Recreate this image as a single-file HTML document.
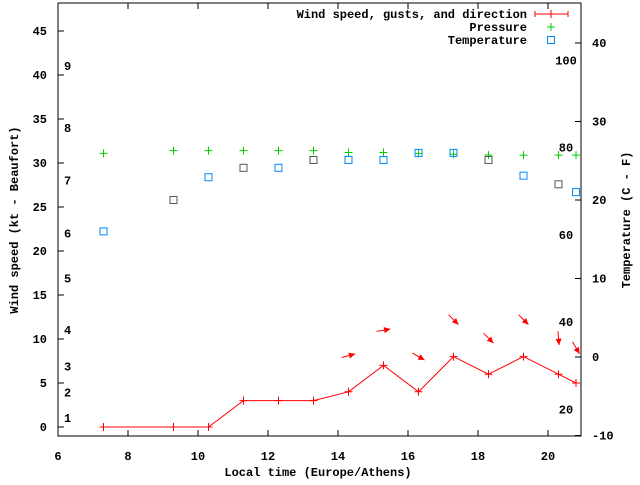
<!DOCTYPE html>
<html><head><meta charset="utf-8"><style>
body{margin:0;background:#fff}
svg text{font-family:"Liberation Mono",monospace;font-weight:bold;font-size:12px;fill:#000}
</style></head><body>
<svg id="chart" width="640" height="480" xmlns="http://www.w3.org/2000/svg">
<g id="axes"></g><g id="series"></g><g id="legend"></g>
</svg>
<script>
const times=[7.3,9.3,10.3,11.3,12.3,13.3,14.3,15.3,16.3,17.3,18.3,19.3,20.3,20.8];
const windSpeed=[0,0,0,3,3,3,4,7,4,8,6,8,6,5];
const pressure=[31.1,31.4,31.4,31.4,31.4,31.4,31.2,31.2,31.1,31.0,30.9,30.9,30.9,30.9];
const temperature=[16.0,20.0,22.9,24.1,24.1,25.1,25.1,25.1,26.0,26.0,25.1,23.1,22.0,21.0];
const tempGray=[0,1,0,1,0,1,0,0,0,0,1,0,1,0];
const arrowTimes=[14.3,15.3,16.3,17.3,18.3,19.3,20.3,20.8];
const gusts=[8.1,11.0,8.0,12.2,10.1,12.2,10.1,9.0];
const windDirDeg=[255,260,300,315,315,315,355,330];
const xTicks=[6,8,10,12,14,16,18,20];
const yTicks=[0,5,10,15,20,25,30,35,40,45];
const y2Ticks=[-10,0,10,20,30,40];
const fLabels=[20,40,60,80,100];
const beaufort=[1,2,3,4,5,6,7,8,9];
const beaufortKt=[1.0,3.9,6.9,11,16.9,22,28,34,41];

const L=58,R=581,T=3,B=436;
const X=v=>L+(v-6)*35;
const Y=v=>427-v*8.8;
const Y2=v=>357-v*7.85;
const NS="http://www.w3.org/2000/svg";
function el(p,tag,a){const e=document.createElementNS(NS,tag);for(const k in a)e.setAttribute(k,a[k]);p.appendChild(e);return e;}
const ax=document.getElementById('axes'),se=document.getElementById('series'),lg=document.getElementById('legend');

const frame=el(ax,'rect',{x:L,y:T,width:R-L,height:B-T,fill:'none',stroke:'#000','stroke-width':1});


xTicks.forEach(v=>{
  el(ax,'line',{x1:X(v),x2:X(v),y1:B,y2:B-6,stroke:'#000'});
  el(ax,'line',{x1:X(v),x2:X(v),y1:T,y2:T+6,stroke:'#000'});
  const t=el(ax,'text',{x:X(v),y:B+24,'text-anchor':'middle'});t.textContent=v;
  
  
});
yTicks.forEach(v=>{
  el(ax,'line',{x1:L,x2:L+6,y1:Y(v),y2:Y(v),stroke:'#000'});
  const t=el(ax,'text',{x:L-11,y:Y(v)+4,'text-anchor':'end'});t.textContent=v;
  
  
});
y2Ticks.forEach(v=>{
  el(ax,'line',{x1:R,x2:R-6,y1:Y2(v),y2:Y2(v),stroke:'#000'});
  const t=el(ax,'text',{x:R+11,y:Y2(v)+4,'text-anchor':'start'});t.textContent=v;
  
  
});
fLabels.forEach(f=>{
  const c=(f-32)*5/9;
  const t=el(ax,'text',{x:566,y:Y2(c)+4,'text-anchor':'middle'});t.textContent=f;
  
  
});
beaufort.forEach((b,i)=>{
  const t=el(ax,'text',{x:64,y:Y(beaufortKt[i])+4});t.textContent=b;
  
  
});
let t=el(ax,'text',{x:318,y:476,'text-anchor':'middle'});t.textContent='Local time (Europe/Athens)';


t=el(ax,'text',{x:0,y:0,'text-anchor':'middle',transform:'translate(18,220) rotate(-90)'});t.textContent='Wind speed (kt - Beaufort)';


t=el(ax,'text',{x:0,y:0,'text-anchor':'middle',transform:'translate(630,220) rotate(-90)'});t.textContent='Temperature (C - F)';



// wind line
const pl=el(se,'polyline',{points:times.map((v,i)=>X(v)+','+Y(windSpeed[i])).join(' '),fill:'none',stroke:'#f00','stroke-width':1});


times.forEach((v,i)=>{
  const g=el(se,'path',{d:`M${X(v)-4},${Y(windSpeed[i])}h8M${X(v)},${Y(windSpeed[i])-4}v8`,stroke:'#f00','stroke-width':1});
  
  
  const p=el(se,'path',{d:`M${X(v)-4},${Y(pressure[i])}h8M${X(v)},${Y(pressure[i])-4}v8`,stroke:'#0c0','stroke-width':1});
  
  
  const s=el(se,'rect',{x:X(v)-3.5,y:Y2(temperature[i])-3.5,width:7,height:7,fill:'none',stroke:tempGray[i]?'#555':'#08f','stroke-width':1});
  
  
});
arrowTimes.forEach((v,i)=>{
  const cx=X(v),cy=Y(gusts[i]);
  const a=windDirDeg[i]*Math.PI/180;
  const dx=-Math.sin(a)*7,dy=Math.cos(a)*7;
  const x1=cx-dx,y1=cy-dy,x2=cx+dx,y2=cy+dy;
  const ang=Math.atan2(y2-y1,x2-x1);
  const h=7,w=0.45;
  const g=el(se,'g',{});
  
  
  el(g,'line',{x1,y1,x2,y2,stroke:'#f00'});
  el(g,'polygon',{points:`${x2},${y2} ${x2-h*Math.cos(ang-w)},${y2-h*Math.sin(ang-w)} ${x2-h*Math.cos(ang+w)},${y2-h*Math.sin(ang+w)}`,fill:'#f00'});
});

// legend
const rows=[['Wind speed, gusts, and direction',14],['Pressure',27],['Temperature',40]];
rows.forEach(r=>{const tx=el(lg,'text',{x:527,y:r[1]+4,'text-anchor':'end'});tx.textContent=r[0];
  
  });
let e=el(lg,'path',{d:'M535,14h33M535,11v6M568,11v6M551,10v8',stroke:'#f00'});


e=el(lg,'path',{d:'M547,27h8M551,23v8',stroke:'#0c0'});


e=el(lg,'rect',{x:547.5,y:36.5,width:7,height:7,fill:'none',stroke:'#08f'});


</script>
</body></html>
